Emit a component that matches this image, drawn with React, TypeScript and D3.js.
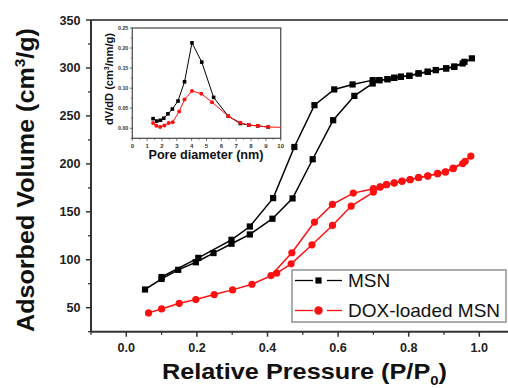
import React from "react";
import * as d3 from "d3";

// ---------- main isotherm data ----------
const msnAdsP = [0.053, 0.1, 0.147, 0.197, 0.247, 0.298, 0.35, 0.414, 0.471, 0.528, 0.586, 0.646, 0.698, 0.717, 0.74, 0.759, 0.778, 0.802, 0.828, 0.854, 0.877, 0.906, 0.929, 0.953, 0.979];
const msnAdsV = [69, 80, 89.5, 97.4, 107, 116.7, 126.4, 142.8, 164, 204.8, 245.5, 270.9, 283.8, 287.3, 288.3, 289.7, 290.8, 291.8, 294.3, 296, 297.8, 299.5, 301.2, 304.7, 310];
const msnDesP = [0.958, 0.929, 0.906, 0.877, 0.854, 0.828, 0.802, 0.778, 0.759, 0.74, 0.717, 0.698, 0.641, 0.589, 0.533, 0.476, 0.416, 0.35, 0.298, 0.204, 0.1];
const msnDesV = [306.4, 301.4, 299.6, 297.8, 296, 294.3, 291.8, 290.8, 289.7, 288.3, 287.3, 287.3, 282.8, 277.6, 261.2, 217.6, 164.3, 134.7, 120.8, 102, 82];

const doxAdsP = [0.063, 0.1, 0.15, 0.197, 0.249, 0.301, 0.356, 0.426, 0.467, 0.526, 0.584, 0.637, 0.7, 0.719, 0.737, 0.759, 0.781, 0.804, 0.828, 0.854, 0.882, 0.904, 0.926, 0.953, 0.976];
const doxAdsV = [44.6, 48.7, 54.6, 58.5, 63.7, 68.6, 74.5, 86, 95.8, 115.6, 135.8, 156, 170.6, 175.8, 178.3, 180, 181.8, 183.5, 185.6, 187.3, 189.8, 191.5, 195, 200.3, 208];
const doxDesP = [0.96, 0.926, 0.904, 0.882, 0.854, 0.828, 0.804, 0.781, 0.759, 0.737, 0.719, 0.7, 0.643, 0.584, 0.533, 0.469, 0.41];
const doxDesV = [202.7, 195.5, 191.8, 190, 187.5, 185.8, 183.7, 182, 180.2, 178.5, 176, 174.1, 169.5, 157.7, 139.3, 107.3, 83.5];

const xTicksMain = [0, 0.2, 0.4, 0.6, 0.8, 1.0];
const xMinorMain = [-0.1, 0.1, 0.3, 0.5, 0.7, 0.9];
const yTicksMain = [50, 100, 150, 200, 250, 300, 350];
const yMinorMain = [25, 75, 125, 175, 225, 275, 325];

// ---------- inset pore-size distribution ----------
const msnPoreD = [1.4, 1.65, 1.9, 2.12, 2.4, 2.7, 3.08, 3.52, 4.02, 4.68, 5.48, 6.47, 7.28, 7.85, 8.45, 9.16];
const msnPSD = [0.024, 0.018, 0.02, 0.025, 0.036, 0.048, 0.068, 0.116, 0.213, 0.165, 0.077, 0.03, 0.012, 0.008, 0.006, 0.003];
const doxPoreD = [1.4, 1.62, 1.88, 2.16, 2.45, 2.72, 3.16, 3.52, 4.02, 4.65, 5.37, 6.47, 7.28, 7.85, 8.45, 9.16];
const doxPSD = [0.013, 0.006, 0.003, 0.007, 0.013, 0.015, 0.042, 0.072, 0.093, 0.086, 0.065, 0.03, 0.014, 0.008, 0.006, 0.003];
const doxTailD = [9.16, 10.8];
const doxTailV = [0.003, 0.002];

const insetXTicks = [0, 1, 2, 3, 4, 5, 6, 7, 8, 9, 10];
const insetXMinor = [0.5, 1.5, 2.5, 3.5, 4.5, 5.5, 6.5, 7.5, 8.5, 9.5];
const insetYTicks = [0, 0.05, 0.1, 0.15, 0.2, 0.25];
const insetYMinor = [-0.025, 0.025, 0.075, 0.125, 0.175, 0.225];

const legendNames = ["MSN", "DOX-loaded MSN"];

const RED = "#ff1010";
const FONT = "'Liberation Sans', Arial, sans-serif";

type Pt = [number, number];
const zip = (a: number[], b: number[]): Pt[] => a.map((v, i) => [v, b[i]]);

export default function App() {
  const W = 508, H = 388;
  const x = d3.scaleLinear().domain([-0.1, 1.1]).range([91, 514.6]);
  const y = d3.scaleLinear().domain([25, 350]).range([331.7, 20]);
  const line = d3.line<Pt>().x((d) => x(d[0])).y((d) => y(d[1]));

  const ix = d3.scaleLinear().domain([0, 10]).range([132.3, 280.7]);
  const iy = d3.scaleLinear().domain([-0.025, 0.25]).range([138.3, 28]);
  const iline = d3.line<Pt>().x((d) => ix(d[0])).y((d) => iy(d[1]));

  const msnA = zip(msnAdsP, msnAdsV);
  const msnD = zip(msnDesP, msnDesV);
  const doxA = zip(doxAdsP, doxAdsV);
  const doxD = zip(doxDesP, doxDesV);
  const iMsn = zip(msnPoreD, msnPSD);
  const iDox = zip(doxPoreD, doxPSD);
  const iTail = zip(doxTailD, doxTailV);

  const sq = 6.2;
  const isq = 3.6;

  const [x0, x1] = x.range();
  const [yb, yt] = y.range();
  const [ix0, ix1] = ix.range();
  const [iyb, iyt] = iy.range();

  return (
    <svg width={W} height={H} style={{ position: "absolute", left: 0, top: 0, background: "#fff" }} fontFamily={FONT}>
      <defs>
        <clipPath id="insetClip">
          <rect x={ix0} y={iyt} width={ix1 - ix0} height={iyb - iyt} />
        </clipPath>
      </defs>
      <rect x={0} y={0} width={W} height={H} fill="#fff" />

      {/* main frame */}
      <line x1={x0} x2={x1} y1={yt} y2={yt} stroke="#555" strokeWidth={2} />
      <line x1={x1} x2={x1} y1={yt} y2={yb} stroke="#555" strokeWidth={2} />
      <line x1={x0} x2={x1} y1={yb} y2={yb} stroke="#333" strokeWidth={2} />
      <line x1={x0} x2={x0} y1={yt} y2={yb} stroke="#333" strokeWidth={2} />

      {/* y ticks */}
      {yTicksMain.map((t) => (
        <g key={"y" + t}>
          <line x1={x0 - 5} x2={x0} y1={y(t)} y2={y(t)} stroke="#333" strokeWidth={1.5} />
          <text x={80.5} y={y(t)} dy="0.36em" textAnchor="end" fontSize={12.6} fontWeight="bold" fill="#222">{t}</text>
        </g>
      ))}
      {yMinorMain.map((t) => (
        <line key={"ym" + t} x1={x0 - 3} x2={x0} y1={y(t)} y2={y(t)} stroke="#333" strokeWidth={1.3} />
      ))}
      {/* x ticks */}
      {xTicksMain.map((t) => (
        <g key={"x" + t}>
          <line x1={x(t)} x2={x(t)} y1={yb} y2={yb + 5} stroke="#333" strokeWidth={1.5} />
          <text x={x(t)} y={352} textAnchor="middle" fontSize={12.6} fontWeight="bold" fill="#222">{t.toFixed(1)}</text>
        </g>
      ))}
      {xMinorMain.map((t) => (
        <line key={"xm" + t} x1={x(t)} x2={x(t)} y1={yb} y2={yb + 3} stroke="#333" strokeWidth={1.3} />
      ))}

      {/* axis titles */}
      <text x={304.5} y={379} textAnchor="middle" fontSize={22} fontWeight="bold" fill="#111" textLength={285} lengthAdjust="spacingAndGlyphs">
        Relative Pressure (P/P<tspan fontSize={13} dy={6}>0</tspan><tspan dy={-6}>)</tspan>
      </text>
      <text transform="translate(34,180) rotate(-90)" textAnchor="middle" fontSize={23} fontWeight="bold" fill="#111" textLength={304} lengthAdjust="spacingAndGlyphs">
        Adsorbed Volume (cm<tspan fontSize={14} dy={-9}>3</tspan><tspan dy={9}>/g)</tspan>
      </text>

      {/* MSN isotherm */}
      <path d={line(msnA) || ""} fill="none" stroke="#000" strokeWidth={1.5} />
      <path d={line(msnD) || ""} fill="none" stroke="#000" strokeWidth={1.5} />
      {[...msnA, ...msnD].map((d, i) => (
        <rect key={"ms" + i} x={x(d[0]) - sq / 2} y={y(d[1]) - sq / 2} width={sq} height={sq} fill="#000" />
      ))}
      {/* DOX isotherm */}
      <path d={line(doxA) || ""} fill="none" stroke={RED} strokeWidth={1.5} />
      <path d={line(doxD) || ""} fill="none" stroke={RED} strokeWidth={1.5} />
      {[...doxA, ...doxD].map((d, i) => (
        <circle key={"dx" + i} cx={x(d[0])} cy={y(d[1])} r={3.6} fill={RED} />
      ))}

      {/* inset */}
      <rect x={ix0} y={iyt} width={ix1 - ix0} height={iyb - iyt} fill="#fff" stroke="#555" strokeWidth={1.3} />
      {insetYTicks.map((t) => (
        <g key={"iy" + t}>
          <line x1={ix0 - 2.5} x2={ix0} y1={iy(t)} y2={iy(t)} stroke="#444" strokeWidth={0.8} />
          <text x={ix0 - 4} y={iy(t)} dy="0.35em" textAnchor="end" fontSize={5.3} fontWeight="bold" fill="#333">{t.toFixed(2)}</text>
        </g>
      ))}
      {insetYMinor.map((t) => (
        <line key={"iym" + t} x1={ix0 - 1.5} x2={ix0} y1={iy(t)} y2={iy(t)} stroke="#444" strokeWidth={0.7} />
      ))}
      {insetXTicks.map((t) => (
        <g key={"ix" + t}>
          <line x1={ix(t)} x2={ix(t)} y1={iyb} y2={iyb + 2.5} stroke="#444" strokeWidth={0.8} />
          <text x={ix(t)} y={147.6} textAnchor="middle" fontSize={6} fontWeight="bold" fill="#333">{t}</text>
        </g>
      ))}
      {insetXMinor.map((t) => (
        <line key={"ixm" + t} x1={ix(t)} x2={ix(t)} y1={iyb} y2={iyb + 1.5} stroke="#444" strokeWidth={0.7} />
      ))}
      <text x={206} y={158.5} textAnchor="middle" fontSize={12} fontWeight="bold" fill="#111" textLength={115} lengthAdjust="spacingAndGlyphs">
        Pore diameter (nm)
      </text>
      <text transform="translate(112.5,79) rotate(-90)" textAnchor="middle" fontSize={10.5} fontWeight="bold" fill="#111" textLength={92} lengthAdjust="spacingAndGlyphs">
        dV/dD (cm<tspan fontSize={6.5} dy={-4}>3</tspan><tspan dy={4}>/nm/g)</tspan>
      </text>
      <g clipPath="url(#insetClip)">
        <path d={iline(iMsn) || ""} fill="none" stroke="#000" strokeWidth={1} />
        {iMsn.map((d, i) => (
          <rect key={"im" + i} x={ix(d[0]) - isq / 2} y={iy(d[1]) - isq / 2} width={isq} height={isq} fill="#000" />
        ))}
        <path d={iline(iDox) || ""} fill="none" stroke={RED} strokeWidth={1} />
        <path d={iline(iTail) || ""} fill="none" stroke={RED} strokeWidth={1} />
        {iDox.map((d, i) => (
          <circle key={"id" + i} cx={ix(d[0])} cy={iy(d[1])} r={2} fill={RED} />
        ))}
      </g>

      {/* legend */}
      <rect x={292} y={270} width={214} height={52} fill="#fff" stroke="#777" strokeWidth={1.2} />
      {legendNames.map((name, i) => {
        const cy = 280.5 + i * 30;
        const col = i === 0 ? "#000" : RED;
        return (
          <g key={name}>
            <line x1={295} x2={313} y1={cy} y2={cy} stroke={col} strokeWidth={1.3} />
            <line x1={327} x2={342} y1={cy} y2={cy} stroke={col} strokeWidth={1.3} />
            {i === 0 ? (
              <rect x={318.5 - sq / 2} y={cy - sq / 2} width={sq} height={sq} fill="#000" />
            ) : (
              <circle cx={318.5} cy={cy} r={4.2} fill={RED} />
            )}
            <text x={348} y={cy + 6.8} fontSize={19} fill="#111">{name}</text>
          </g>
        );
      })}
    </svg>
  );
}
